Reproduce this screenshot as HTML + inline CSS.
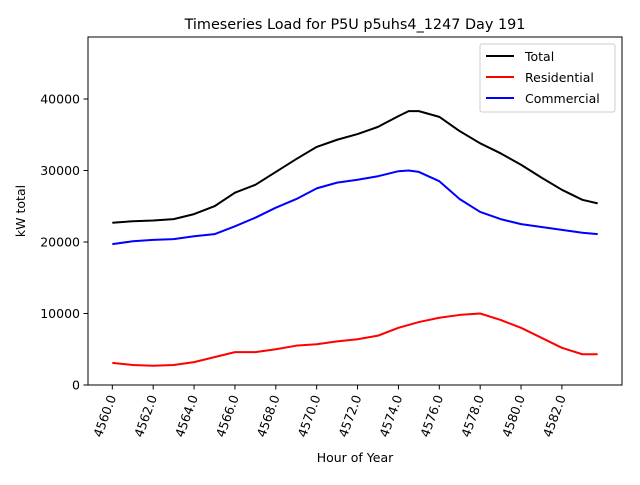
<!DOCTYPE html>
<html><head><meta charset="utf-8"><style>
body{margin:0;background:#fff;font-family:"Liberation Sans","DejaVu Sans",sans-serif}
svg text{font-family:"DejaVu Sans","Liberation Sans",sans-serif}
</style></head><body>
<svg id="chart" width="640" height="480" viewBox="0 0 640 480" xmlns="http://www.w3.org/2000/svg">
<rect width="640" height="480" fill="#fff"/>
<text x="355" y="29" font-size="14.4" text-anchor="middle">Timeseries Load for P5U p5uhs4_1247  Day 191</text>
<text x="355" y="462" font-size="12.5" text-anchor="middle">Hour of Year</text>
<text x="0" y="0" font-size="12.5" text-anchor="middle" transform="translate(25,211) rotate(-90)">kW total</text>
<g id="grid"></g>
<g id="series"></g>
<rect x="88" y="37" width="534" height="348" fill="none" stroke="#000" stroke-width="1"/>
<g>
<rect x="480" y="44" width="135" height="68" fill="#fff" fill-opacity="0.8" stroke="#ccc" rx="2"/>
<g><line x1="486" y1="56" x2="514" y2="56" stroke="#000" stroke-width="2"/><text x="525" y="61" font-size="12.5">Total</text></g>
<g><line x1="486" y1="77" x2="514" y2="77" stroke="#f00" stroke-width="2"/><text x="525" y="82" font-size="12.5">Residential</text></g>
<g><line x1="486" y1="98" x2="514" y2="98" stroke="#00f" stroke-width="2"/><text x="525" y="103" font-size="12.5">Commercial</text></g>
</g>
</svg>
<script>
const hours=[4560,4561,4562,4563,4564,4565,4566,4567,4568,4569,4570,4571,4572,4573,4574,4574.5,4575,4576,4577,4578,4579,4580,4581,4582,4583,4583.75];
const totalKW=[22700,22900,23000,23200,23900,25000,26900,28000,29800,31600,33300,34300,35100,36100,37600,38300,38300,37500,35500,33800,32400,30800,29000,27300,25900,25400];
const residentialKW=[3100,2800,2700,2800,3200,3900,4600,4600,5000,5500,5700,6100,6400,6900,8000,8400,8800,9400,9800,10000,9100,8000,6600,5200,4300,4300];
const commercialKW=[19700,20100,20300,20400,20800,21100,22200,23400,24800,26000,27500,28300,28700,29200,29900,30000,29800,28500,26000,24200,23200,22500,22100,21700,21300,21100];
const xTicks=[4560,4562,4564,4566,4568,4570,4572,4574,4576,4578,4580,4582];
const yTicks=[0,10000,20000,30000,40000];
const X0=88,X1=622,Y0=385,Y1=37,xmin=4558.81,xmax=4584.94,ymin=0,ymax=48670;
const sx=v=>X0+(v-xmin)/(xmax-xmin)*(X1-X0);
const sy=v=>Y0-(v-ymin)/(ymax-ymin)*(Y0-Y1);
const NS="http://www.w3.org/2000/svg";
const g=document.getElementById('grid'),s=document.getElementById('series');
function mk(t,a,p){const e=document.createElementNS(NS,t);for(const k in a)e.setAttribute(k,a[k]);p.appendChild(e);return e;}
xTicks.forEach(v=>{const x=sx(v);
const t=mk('line',{x1:x,y1:385,x2:x,y2:389.5,stroke:'#000'},g);


const l=mk('text',{x:0,y:0,'font-size':12.5,'text-anchor':'end',transform:`translate(${x+4},${397}) rotate(-70)`},g);
l.textContent=v.toFixed(1);

});
yTicks.forEach(v=>{const y=sy(v);
const t=mk('line',{x1:83.5,y1:y,x2:88,y2:y,stroke:'#000'},g);


const l=mk('text',{x:80,y:y+4.5,'font-size':12.5,'text-anchor':'end'},g);
l.textContent=v;

});
[[totalKW,'#000','total-line'],[residentialKW,'#f00','residential-line'],[commercialKW,'#00f','commercial-line']].forEach(([d,c,n])=>{
const p=mk('polyline',{points:d.map((v,i)=>sx(hours[i])+','+sy(v)).join(' '),fill:'none',stroke:c,'stroke-width':2,'stroke-linejoin':'round'},s);

});
</script>
</body></html>
